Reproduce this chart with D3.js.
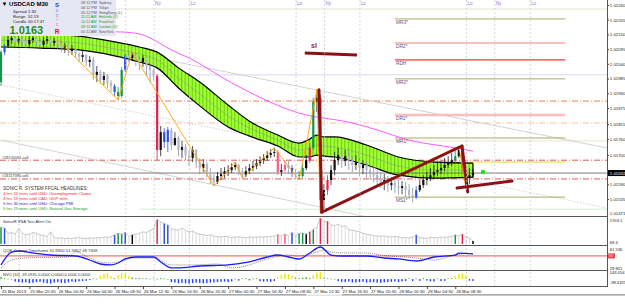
<!DOCTYPE html>
<html>
<head>
<meta charset="utf-8">
<style>
  body { margin: 0; background: #fff; }
  svg { display: block; font-family: "Liberation Sans", Arial, sans-serif; }
  .ax .domain { display: none; }
  .ax .tick line { stroke: #444; }
  .ax .tick text { font-size: 4.3px; fill: #222; }
</style>
</head>
<body>
<svg width="625" height="308"></svg>
<script src="https://d3js.org/d3.v7.min.js"></script>
<script>
// ---- price data (M30 bars, 25 Mar 16:30 .. 28 Mar 10:30) ----
const open0 = 1.01972;
const close = [1.02084,1.02107,1.02129,1.02137,1.02122,1.02133,1.02126,1.02114,1.02129,1.02137,
1.02122,1.02111,1.02126,1.02133,1.02118,1.02126,1.02114,1.02099,1.02107,1.02088,
1.02096,1.02077,1.02066,1.02073,1.02047,1.02055,1.01999,1.02010,1.01980,1.01995,
1.01969,1.01957,1.01935,1.01920,1.02017,1.02070,1.02062,1.02073,1.02055,1.02047,
1.02062,1.02032,1.02017,1.01995,1.01718,1.01785,1.01748,1.01793,1.01737,1.01763,
1.01718,1.01729,1.01699,1.01688,1.01718,1.01673,1.01651,1.01666,1.01636,1.01613,
1.01598,1.01621,1.01628,1.01639,1.01643,1.01654,1.01662,1.01639,1.01624,1.01639,
1.01651,1.01658,1.01669,1.01680,1.01688,1.01699,1.01707,1.01711,1.01636,1.01643,
1.01662,1.01651,1.01636,1.01624,1.01621,1.01651,1.01680,1.01726,1.01898,1.01913,
1.01531,1.01568,1.01606,1.01643,1.01680,1.01699,1.01677,1.01695,1.01680,1.01662,
1.01673,1.01651,1.01662,1.01643,1.01636,1.01624,1.01613,1.01598,1.01606,1.01587,
1.01595,1.01583,1.01576,1.01583,1.01568,1.01550,1.01542,1.01568,1.01587,1.01606,
1.01613,1.01624,1.01636,1.01643,1.01651,1.01662,1.01673,1.01680,1.01695,1.01718,
1.01651,1.01613,1.01624,1.01632];
const high = [1.02092,1.02114,1.02144,1.02152,1.02144,1.02148,1.02144,1.02137,1.02144,1.02152,
1.02141,1.02133,1.02141,1.02148,1.02137,1.02137,1.02129,1.02122,1.02118,1.02111,
1.02111,1.02099,1.02084,1.02088,1.02077,1.02070,1.02066,1.02032,1.02017,1.02010,
1.02002,1.01980,1.01965,1.01954,1.02028,1.02077,1.02081,1.02084,1.02077,1.02070,
1.02073,1.02062,1.02040,1.02025,1.02002,1.01808,1.01800,1.01804,1.01800,1.01785,
1.01770,1.01752,1.01740,1.01718,1.01733,1.01722,1.01688,1.01684,1.01673,1.01651,
1.01628,1.01636,1.01651,1.01654,1.01662,1.01669,1.01673,1.01666,1.01651,1.01658,
1.01666,1.01677,1.01684,1.01695,1.01703,1.01714,1.01722,1.01726,1.01718,1.01666,
1.01680,1.01677,1.01662,1.01647,1.01639,1.01669,1.01699,1.01744,1.01913,1.01943,
1.01924,1.01591,1.01624,1.01662,1.01711,1.01726,1.01718,1.01718,1.01711,1.01695,
1.01699,1.01688,1.01680,1.01677,1.01662,1.01654,1.01643,1.01636,1.01628,1.01621,
1.01617,1.01613,1.01606,1.01602,1.01598,1.01591,1.01576,1.01583,1.01606,1.01624,
1.01636,1.01651,1.01662,1.01669,1.01677,1.01688,1.01695,1.01707,1.01718,1.01733,
1.01729,1.01658,1.01651,1.01647];
const low = [1.01957,1.02073,1.02099,1.02114,1.02107,1.02111,1.02107,1.02099,1.02103,1.02118,
1.02107,1.02092,1.02099,1.02114,1.02103,1.02107,1.02096,1.02084,1.02081,1.02070,
1.02073,1.02062,1.02047,1.02047,1.02032,1.02028,1.01980,1.01972,1.01965,1.01961,
1.01950,1.01935,1.01920,1.01905,1.01913,1.02010,1.02047,1.02051,1.02032,1.02017,
1.02028,1.01995,1.01969,1.01980,1.01680,1.01695,1.01726,1.01711,1.01718,1.01733,
1.01695,1.01688,1.01680,1.01658,1.01673,1.01651,1.01628,1.01636,1.01617,1.01591,
1.01583,1.01591,1.01606,1.01613,1.01621,1.01632,1.01643,1.01624,1.01613,1.01617,
1.01628,1.01639,1.01647,1.01658,1.01666,1.01677,1.01688,1.01692,1.01624,1.01621,
1.01636,1.01628,1.01617,1.01610,1.01606,1.01613,1.01643,1.01669,1.01718,1.01860,
1.01482,1.01494,1.01550,1.01587,1.01624,1.01662,1.01651,1.01658,1.01643,1.01636,
1.01643,1.01621,1.01628,1.01613,1.01606,1.01598,1.01583,1.01576,1.01568,1.01561,
1.01568,1.01557,1.01550,1.01553,1.01542,1.01535,1.01523,1.01535,1.01561,1.01576,
1.01587,1.01602,1.01613,1.01621,1.01628,1.01639,1.01651,1.01658,1.01669,1.01688,
1.01636,1.01576,1.01591,1.01613];
// VSA colour class per bar: n normal, r red, b blue, g green, p pink, k black
const vsaType = "gbnnnnnnnn" + "nnnnnnnnnn" + "nnnnnnnnnn" + "nnbggbnknn" + "nnnnrnbbnn" +
  "nnnnnnnnnn" + "nnnnnnnnnn" + "nnnnnnnnpn" + "pnbnggkrgn" + "rnrnnnnnnn" +
  "nnnnnnnnnn" + "nnnnnnnbnn" + "nnnnnnnngn" + "rnnk";

const volume = [1100,1050,
  700,750,650,1000,700,600,650,750,700,600,550,500,800,
  420,380,400,350,380,360,400,420,380,350,400,380,420,400,450,430,480,
  600,700,650,750,500,600,
  650,700,800,750,900,1000,
  1600,1450,1350,1250,1000,950,900,1050,880,800,850,700,650,600,560,600,520,
  480,450,500,470,430,450,480,440,420,460,430,450,470,440,480,500,520,
  620,500,650,520,750,560,700,720,650,800,950,1100,1700,1400,1500,
  1250,1200,1300,1150,1200,950,900,850,800,700,650,600,
  550,520,500,540,480,460,500,450,430,420,400,450,
  600,
  420,400,380,420,440,400,450,430,470,480,
  600,500,650,450,400,200];

const nvo = [40,20,10,5,
  -50,-60,-70,-65,-80,-75,-60,-55,-70,-85,-90,-70,-60,-75,-80,-65,-50,-60,-45,-40,-35,-20,15,10,
  70,100,120,60,20,80,130,110,60,
  30,20,25,15,20,10,15,5,20,10,5,
  -60,-70,-80,-75,-85,-90,-80,-70,-75,-85,-80,-70,-65,-60,-55,-50,-60,-45,
  10,-30,15,20,-25,10,15,
  -40,-50,-45,-55,-40,
  50,90,120,100,70,30,20,
  30,40,20,80,130,140,
  20,15,10,5,
  -40,-55,-60,-50,-65,-70,-60,-55,-70,-65,-60,-70,-75,-65,-60,-55,-50,-60,-45,-40,
  15,-40,10,-35,20,-30,
  -45,-50,10,-40,-35,15,20,
  60,100,120,70,
  -30,-39];

// ---- indicator lines (bar index, value) ----
const bandIdx = [0,11,22,32,39,44,50,56,64,70,78,84,87,89,91,94,103,112,122,133];
const bandUpper = [1.02152,1.02152,1.02144,1.02122,1.02103,1.02084,1.02025,1.01972,1.01886,1.01826,
  1.01774,1.01744,1.01759,1.01774,1.01767,1.01767,1.01737,1.01692,1.01673,1.01669];
const bandMid = [1.02129,1.02126,1.02118,1.02096,1.02077,1.02055,1.01987,1.01928,1.01845,1.01800,
  1.01755,1.01718,1.01726,1.01737,1.01733,1.01729,1.01699,1.01658,1.01643,1.01643];
const bandLower = [1.02103,1.02099,1.02092,1.02070,1.02047,1.02025,1.01950,1.01883,1.01804,1.01770,
  1.01733,1.01692,1.01692,1.01699,1.01695,1.01692,1.01662,1.01624,1.01613,1.01617];

const emaIdx = [0,34,39,42,48,53,65,84,99,106,115,128,133];
const emaVal = [1.02167,1.02159,1.02152,1.02137,1.02092,1.02062,1.01969,1.01856,1.01819,1.01793,1.01755,1.01726,1.01714];

const zzIdx = [16,33,37,60,66,68,77,84,89,90,129,131];
const zzVal = [1.02129,1.01905,1.02084,1.01583,1.01673,1.01613,1.01726,1.01606,1.01943,1.01482,1.01733,1.01576];

const qqeIdx = [0,3,5,9,14,21,25,28,31,33,35,38,43,45,48,50,56,64,70,75,78,81,84,87,90,93,96,103,108,112,117,122,128,129,133];
const qqeFast = [34.9,56.5,58.2,54.9,51.5,49.9,43.2,36.5,34.9,38.2,44.9,48.2,48.2,39.9,29.9,29.9,33.2,34.9,39.9,48.2,
  51.5,48.2,44.9,54.9,64.9,51.5,49.9,49.9,46.5,44.9,41.5,48.2,51.5,54.5,53.5];
const qqeSlowIdx = [0,3,7,19,21,25,28,31,34,37,44,46,48,54,61,65,69,74,81,84,89,91,93,98,103,107,117,122,128,130];
const qqeSlow = [29.9,43.2,46.5,48.2,56.5,46.5,39.9,38.2,41.5,46.5,46.5,38.2,34.9,34.9,36.5,29.9,33.2,43.2,51.5,49.9,
  56.5,59.9,56.5,54.9,54.9,51.5,46.5,43.2,51.5,53.5];

// ---- chart objects ----
const pivotNames = ["MR3*","DR2*","RDH","MR2*","DR1*","MR1*","MS1*"];
const pivotLevels = [1.02208,1.02118,1.02055,1.01984,1.01849,1.01763,1.01542];
const pivotFrom = 111, pivotTo = 159;
const yellowLevel = 1.01673, yellowFrom = 119;
const solidLevels = [1.02245, 1.01999, 1.01752];
const dashLevels = [1.01901, 1.01819, 1.01680, 1.01610];
const bidPrice = 1.01632;
const lowGreenLevel = 1.01497;
const chanFrom = [1.02178, 1.01961, 1.01755];
const chanTo = [1.01726, 1.01501, 1.01280];
const chanEndIdx = 170.7;
const slIdx = [85.6, 100.3], slVal = [1.02081, 1.02073];
const annoIdx1 = [89.6, 90.4, 129.9, 128.5];
const annoVal1 = [1.01943, 1.01486, 1.01733, 1.01576];
const annoIdx2 = [90.4, 129.9, 131.5, 144];
const annoVal2 = [1.01486, 1.01733, 1.01561, 1.01602];
const dotIdx = 135.8, dotVal = 1.01636;
const orderNames = ["#26120061.sell", "#26117095.sell"];
const orderLevels = [1.01680, 1.01610];

const sessionIdx = [5,35,43,53,83,91,101,131,139,149];
const sessionName = ["Lc","Lo","Ny","Lc","Lo","Ny","Lc","Lo","Ny","Lc"];

const priceTicks = [1.02260,1.02205,1.02150,1.02095,1.02040,1.01985,1.01930,1.01875,1.01815,1.01760,1.01700,1.01645,1.01590,1.01535];
const dateIdx = [0,8,16,24,32,40,48,56,64,72,80,88,96,104,112,120,128];
const dateLabels = ["25 Mar 2013","25 Mar 20:30","26 Mar 00:30","26 Mar 04:30","26 Mar 08:30","26 Mar 12:30",
  "26 Mar 16:30","26 Mar 20:30","27 Mar 00:30","27 Mar 04:30","27 Mar 08:30","27 Mar 12:30","27 Mar 16:30",
  "27 Mar 20:30","28 Mar 00:30","28 Mar 04:30","28 Mar 08:30"];

const headlines = ["4 hrs 15 mins until USD:  Unemployment Claims", "4 hrs 15 mins until CAD:  GDP m/m",
  "5 hrs 30 mins until USD:  Chicago PMI", "5 hrs 15 mins until USD:  Natural Gas Storage"];
const headColors = ["#e8283c", "#e8283c", "#2424d0", "#1f9a1f"];
const cities = ["Sydney","Tokyo","HongKong (L)","Helsinki (O)","Frankfurt","London (O)","NewYork"];
const cityTimes = ["08:12 PM","06:12 PM","05:12 PM","11:12 AM","10:12 AM","09:12 AM","05:12 AM"];
const cityOpen = [false,false,false,true,true,true,false];

// ---- scales ----
const W = 607;
const PANEL_W = 116;
const svg = d3.select("svg");
const x = d3.scaleLinear().domain([0, 133]).range([1, 473]);
const yP = d3.scaleLinear().domain([1.02260, 1.01535]).range([5, 199]);
const yV = d3.scaleLinear().domain([0, 1703.1]).range([244, 218]);
const yQ = d3.scaleLinear().domain([29.851, 61.536]).range([268, 249]);
const yN = d3.scaleLinear().domain([-98.4325, 143.054]).range([284, 272]);

const defs = svg.append("defs");
[["cMain", 0, 216], ["cVsa", 216, 29], ["cQqe", 245, 25], ["cNvo", 270, 16]].forEach(c => {
  defs.append("clipPath").attr("id", c[0]).append("rect")
    .attr("x", 0).attr("y", c[1]).attr("width", W).attr("height", c[2]);
});
const pat = defs.append("pattern").attr("id", "stripes")
  .attr("patternUnits", "userSpaceOnUse").attr("width", 3.55).attr("height", 10);
pat.append("rect").attr("width", 3.55).attr("height", 10).attr("fill", "#a6ff3c");
pat.append("rect").attr("width", 1.1).attr("height", 10).attr("fill", "#63d000");

const main = svg.append("g").attr("clip-path", "url(#cMain)");

// horizontal levels
main.selectAll(".sol").data(solidLevels).join("line")
  .attr("x1", 0).attr("x2", W).attr("y1", d => yP(d)).attr("y2", d => yP(d))
  .style("stroke", (d, i) => ["#e6e2d4", "#d8d8f2", "#ece4d2"][i]).style("stroke-width", 1);
main.append("line").attr("x1", 140).attr("x2", W).attr("y1", yP(lowGreenLevel)).attr("y2", yP(lowGreenLevel))
  .style("stroke", "#d4f0d4");
main.selectAll(".dd").data(dashLevels).join("line")
  .attr("x1", 0).attr("x2", W).attr("y1", d => yP(d)).attr("y2", d => yP(d))
  .style("stroke", (d, i) => ["#ee7050", "#ffb494", "#d84848", "#d84848"][i])
  .style("stroke-width", 0.9).style("stroke-dasharray", "6,2,1,2");

// session separators (labels under the info box are hidden there)
svg.selectAll(".sess").data(sessionIdx).join("line")
  .attr("x1", d => x(d) + 0.5).attr("x2", d => x(d) + 0.5).attr("y1", 0).attr("y2", 286)
  .style("stroke", "#c4c4c4").style("stroke-width", 0.7).style("stroke-dasharray", "2,2");
main.selectAll(".sessT").data(sessionIdx.filter(d => x(d) > PANEL_W + 24)).join("text")
  .attr("x", d => x(d) + 1.5).attr("y", 5)
  .style("font-size", "4.6px").style("fill", "#9a72c8")
  .text(d => sessionName[sessionIdx.indexOf(d)]);

// channel lines
main.selectAll(".chan").data(chanFrom).join("line")
  .attr("x1", x(0)).attr("y1", d => yP(d))
  .attr("x2", x(chanEndIdx)).attr("y2", (d, i) => yP(chanTo[i]))
  .style("stroke", "#c6c6c6").style("stroke-width", 0.8)
  .style("stroke-dasharray", (d, i) => i === 1 ? "1.5,1.5" : null);

// pivots
main.selectAll(".piv").data(pivotLevels).join("line")
  .attr("x1", x(pivotFrom)).attr("x2", x(pivotTo)).attr("y1", d => yP(d)).attr("y2", d => yP(d))
  .style("stroke", (d, i) => ["#aaaa66", "#f08474", "#ff3434", "#aaaa66", "#ffbcbc", "#aaaa66", "#aaaa66"][i])
  .style("stroke-width", (d, i) => i === 4 ? 2.6 : (i === 2 ? 1.3 : 1));
main.selectAll(".pivT").data(pivotLevels).join("text")
  .attr("x", x(pivotFrom) + 1).attr("y", d => yP(d) + 5)
  .style("font-size", "4.8px").style("fill", "#56568c")
  .text((d, i) => pivotNames[i]);
main.append("line").attr("x1", x(yellowFrom)).attr("x2", x(pivotTo))
  .attr("y1", yP(yellowLevel)).attr("y2", yP(yellowLevel))
  .style("stroke", "#e8e860").style("stroke-width", 1.4);

// magenta EMA
main.append("path").datum(emaIdx)
  .attr("d", d3.line().x(d => x(d)).y((d, i) => yP(emaVal[i])).curve(d3.curveMonotoneX))
  .style("fill", "none").style("stroke", "#ff44ff").style("stroke-width", 0.9);

// dragon band
main.append("path").datum(bandIdx)
  .attr("d", d3.area().x(d => x(d)).y0((d, i) => yP(bandLower[i])).y1((d, i) => yP(bandUpper[i])).curve(d3.curveMonotoneX))
  .style("fill", "url(#stripes)");
main.append("path").datum(bandIdx)
  .attr("d", d3.line().x(d => x(d)).y((d, i) => yP(bandMid[i])).curve(d3.curveMonotoneX))
  .style("fill", "none").style("stroke", "#8c9c84").style("stroke-width", 0.6);
[bandUpper, bandLower].forEach(arr => {
  main.append("path").datum(bandIdx)
    .attr("d", d3.line().x(d => x(d)).y((d, i) => yP(arr[i])).curve(d3.curveMonotoneX))
    .style("fill", "none").style("stroke", "#000").style("stroke-width", 1.2);
});
main.append("line").attr("x1", x(133)).attr("x2", x(133))
  .attr("y1", yP(bandUpper[bandUpper.length - 1])).attr("y2", yP(bandLower[bandLower.length - 1]))
  .style("stroke", "#000").style("stroke-width", 1.1);

// bid line
main.append("line").attr("x1", 0).attr("x2", W).attr("y1", yP(bidPrice)).attr("y2", yP(bidPrice))
  .style("stroke", "#5a5a5a").style("stroke-width", 0.8);

// candles
const vsaCol = { r: "#e8204a", b: "#2f4fe0", g: "#14964a", p: "#ff5a84", k: "#000" };
const bars = close.map((c, i) => ({ i, o: i ? close[i - 1] : open0, h: high[i], l: low[i], c, t: vsaType[i] }));
function fillOf(d) { return d.t !== "n" ? vsaCol[d.t] : (d.c <= d.o ? "#b3b8cb" : "#111"); }
main.selectAll(".wick").data(bars).join("line")
  .attr("x1", d => x(d.i)).attr("x2", d => x(d.i)).attr("y1", d => yP(d.h)).attr("y2", d => yP(d.l))
  .style("stroke", d => d.t !== "n" ? vsaCol[d.t] : (d.c <= d.o ? "#8a90a8" : "#222")).style("stroke-width", 0.8);
main.selectAll(".body").data(bars).join("rect")
  .attr("x", d => x(d.i) - 1.1).attr("width", 2.2)
  .attr("y", d => Math.min(yP(d.o), yP(d.c)))
  .attr("height", d => Math.max(0.8, Math.abs(yP(d.o) - yP(d.c))))
  .style("fill", fillOf);

// zigzag
main.append("path").datum(zzIdx)
  .attr("d", d3.line().x(d => x(d)).y((d, i) => yP(zzVal[i])))
  .style("fill", "none").style("stroke", "#ffa000").style("stroke-width", 0.9);

// hand drawn objects
main.append("line").attr("x1", x(slIdx[0])).attr("x2", x(slIdx[1]))
  .attr("y1", yP(slVal[0])).attr("y2", yP(slVal[1]))
  .style("stroke", "#8a1216").style("stroke-width", 3);
main.append("text").attr("x", 311).attr("y", 48).style("font-size", "7px").style("font-weight", "bold")
  .style("fill", "#a52040").text("sl");
main.selectAll(".anno").data(annoIdx1).join("line")
  .attr("x1", d => x(d)).attr("y1", (d, i) => yP(annoVal1[i]))
  .attr("x2", (d, i) => x(annoIdx2[i])).attr("y2", (d, i) => yP(annoVal2[i]))
  .style("stroke", "#8a1216").style("stroke-width", 3).style("stroke-linecap", "round");
main.append("circle").attr("cx", x(dotIdx)).attr("cy", yP(dotVal)).attr("r", 2.2).style("fill", "#22dd22");

// order labels
main.selectAll(".ord").data(orderLevels).join("text")
  .attr("x", 2).attr("y", d => yP(d) - 1.5)
  .style("font-size", "3.9px").style("fill", "#333").text((d, i) => orderNames[i]);

// headlines
main.append("text").attr("x", 3).attr("y", 189.5).style("font-size", "4.6px").style("fill", "#333")
  .text("SONIC R. SYSTEM  FFCAL HEADLINES:");
main.selectAll(".hl").data(headlines).join("text")
  .attr("x", 3).attr("y", (d, i) => 194.5 + i * 5)
  .style("font-size", "4.2px").style("fill", (d, i) => headColors[i]).text(d => d);

// ---- VSA panel ----
const vsa = svg.append("g").attr("clip-path", "url(#cVsa)");
vsa.selectAll(".vb").data(volume).join("line")
  .attr("x1", (d, i) => x(i)).attr("x2", (d, i) => x(i)).attr("y1", 244).attr("y2", d => yV(d))
  .style("stroke", (d, i) => vsaType[i] !== "n" ? vsaCol[vsaType[i]] : "#d2d2d2")
  .style("stroke-width", (d, i) => vsaType[i] !== "n" ? 1.5 : 0.8);
vsa.append("path").datum(volume)
  .attr("d", d3.line().x((d, i) => x(i)).y(d => yV(d)))
  .style("fill", "none").style("stroke", "#a6a6a6").style("stroke-width", 0.6);
svg.append("text").attr("x", 3).attr("y", 223).style("font-size", "4.2px").style("fill", "#333")
  .text("SonicR VSA    Test Alert On.");

// ---- QQE panel ----
const qqe = svg.append("g").attr("clip-path", "url(#cQqe)");
qqe.append("line").attr("x1", 0).attr("x2", W).attr("y1", yQ(50)).attr("y2", yQ(50))
  .style("stroke", "#ff3a3a").style("stroke-width", 0.9);
qqe.append("path").datum(qqeSlowIdx)
  .attr("d", d3.line().x(d => x(d)).y((d, i) => yQ(qqeSlow[i])).curve(d3.curveMonotoneX))
  .style("fill", "none").style("stroke", "#333").style("stroke-width", 0.6).style("stroke-dasharray", "1,1");
qqe.append("path").datum(qqeIdx)
  .attr("d", d3.line().x(d => x(d)).y((d, i) => yQ(qqeFast[i])).curve(d3.curveMonotoneX))
  .style("fill", "none").style("stroke", "#1a1aff").style("stroke-width", 1.3);
svg.append("text").attr("x", 3).attr("y", 251.5).style("font-size", "4.2px").style("fill", "#333")
  .text("QQE Current Timeframe 51.9900 51.5962 49.7308");

// ---- NVO panel ----
const nv = svg.append("g").attr("clip-path", "url(#cNvo)");
nv.selectAll(".nb").data(nvo).join("rect")
  .attr("x", (d, i) => x(i) - 0.7).attr("width", 1.4)
  .attr("y", d => Math.min(yN(0), yN(d))).attr("height", d => Math.max(0.7, Math.abs(yN(d) - yN(0))))
  .style("fill", d => d >= 50 ? "#ecec00" : (d >= 0 ? "#2cc02c" : "#2040ff"));
svg.append("text").attr("x", 3).attr("y", 275.5).style("font-size", "4px").style("fill", "#333")
  .text("NVO (10) -39.0935 0.0000 0.0000 0.0000 0.0000");

// ---- frames ----
[216, 245, 270, 286].forEach(yy => {
  svg.append("line").attr("x1", 0).attr("x2", W).attr("y1", yy + 0.5).attr("y2", yy + 0.5)
    .style("stroke", "#555").style("stroke-width", 1);
});
svg.append("line").attr("x1", W + 0.5).attr("x2", W + 0.5).attr("y1", 0).attr("y2", 287)
  .style("stroke", "#555").style("stroke-width", 1);

// price axis (the label hidden under the bid box is left out, as the terminal does)
svg.append("g").attr("class", "ax").attr("transform", `translate(${W},0)`)
  .call(d3.axisRight(yP).tickValues(priceTicks.filter(v => Math.abs(yP(v) - yP(bidPrice)) > 5))
    .tickSize(2).tickPadding(0.8).tickFormat(d3.format(".5f")));
svg.append("text").attr("x", W + 2.8).attr("y", 214.5).style("font-size", "4.3px").style("fill", "#222").text("1.01471");
svg.append("rect").attr("x", W + 1).attr("y", yP(bidPrice) - 3).attr("width", 18).attr("height", 6).style("fill", "#000");
svg.append("text").attr("x", W + 2.8).attr("y", yP(bidPrice) + 1.6).style("font-size", "4.3px").style("fill", "#fff").text("1.01632");

// sub panel labels
const sub = [["1703.1", 221.5], ["69.4", 244], ["61.536", 251], ["29.851", 269.5], ["143.054", 274], ["-98.4325", 283.5]];
svg.selectAll(".subT").data(sub).join("text")
  .attr("x", W + 2.8).attr("y", d => d[1]).style("font-size", "4.1px").style("fill", "#222").text(d => d[0]);
svg.append("rect").attr("x", W + 1).attr("y", yQ(50) - 2.5).attr("width", 7).attr("height", 5).style("fill", "#ff3a3a");
svg.append("text").attr("x", W + 1.6).attr("y", yQ(50) + 1.5).style("font-size", "4px").style("fill", "#fff").text("50");

// time axis
const xa = svg.append("g").attr("class", "ax").attr("transform", "translate(0,287)")
  .call(d3.axisBottom(x).tickValues(dateIdx).tickSize(2).tickPadding(1).tickFormat((d, i) => dateLabels[i]));
xa.selectAll("text").style("text-anchor", "start").attr("dx", "0.4px");

// scroll bar
svg.append("rect").attr("x", 0).attr("y", 294).attr("width", 625).attr("height", 1.6).style("fill", "#a8a8a8");
svg.append("rect").attr("x", 306).attr("y", 294).attr("width", 36).attr("height", 1.6).style("fill", "#f4f4f4");

// ---- info panel ----
const info = svg.append("g");
info.append("rect").attr("x", 0).attr("y", 0).attr("width", PANEL_W).attr("height", 36).style("fill", "#e7e7f3");
info.append("text").attr("x", 1.5).attr("y", 6).style("font-size", "6px").style("font-weight", "bold")
  .text("\u25BC USDCAD  M30");
[["Spread", "2.30"], ["Range", "52.19"], ["Candle", "00:17:47"]].forEach((r, i) => {
  info.append("text").attr("x", 13).attr("y", 12.5 + i * 5.2).style("font-size", "4.2px").style("fill", "#222").text(r[0]);
  info.append("text").attr("x", 28).attr("y", 12.5 + i * 5.2).style("font-size", "4.2px").style("fill", "#222").text(r[1]);
});
info.append("text").attr("x", 9.5).attr("y", 33.5).style("font-size", "11px").style("font-weight", "bold")
  .style("fill", "#1f8a2a").text("1.0163");
[["S", 6.5, "#2030d0", 6, "bold"], ["o", 11.5, "#6b84d8", 4.5, "normal"], ["n", 16.5, "#6b84d8", 4.5, "normal"],
 ["i", 21.2, "#8aa0d8", 4.5, "normal"], ["c", 25.8, "#e070a0", 4.5, "normal"], ["R", 33.5, "#e8101a", 6.5, "bold"]]
  .forEach(l => {
    info.append("text").attr("x", 57).attr("y", l[1]).style("text-anchor", "middle")
      .style("font-size", l[3] + "px").style("font-weight", l[4]).style("fill", l[2]).text(l[0]);
  });
cities.forEach((c, i) => {
  const col = cityOpen[i] ? "#229922" : "#555";
  info.append("text").attr("x", 81).attr("y", 4 + i * 4.8).style("font-size", "3.7px").style("fill", col).text(cityTimes[i]);
  info.append("text").attr("x", 99).attr("y", 4 + i * 4.8).style("font-size", "3.7px").style("fill", col).text(c);
});
</script>
</body>
</html>
